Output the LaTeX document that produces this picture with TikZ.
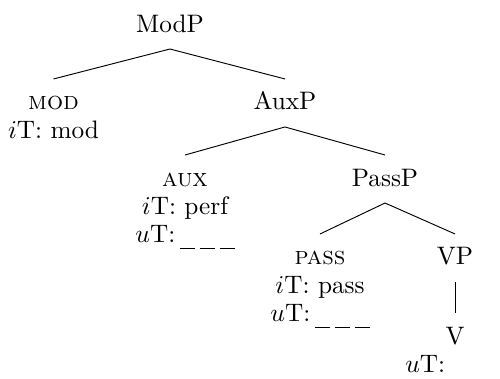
\documentclass[tikz,border=0pt]{standalone}
\usepackage{tikz}

% etichette su piu' righe, allineate sulla prima riga
\newcommand{\pila}[1]{\begin{tabular}[t]{@{}c@{}}#1\end{tabular}}
% spazio vuoto da riempire
\newcommand{\lacuna}{\hspace{2pt}\rule[-3pt]{6.4pt}{0.4pt}\hspace{2.1pt}\rule[-3pt]{6.4pt}{0.4pt}\hspace{2.1pt}\rule[-3pt]{6.4pt}{0.4pt}}

\begin{document}
\begin{tikzpicture}[font=\fontsize{10.8}{12}\selectfont,
    etichetta/.style={inner sep=0pt, anchor=base}]
    % Parametri
    \pgfmathsetmacro{\giu}{0.255}
    \pgfmathsetmacro{\su}{0.466}
    \useasboundingbox (0,0) rectangle (7.51,-5.68);
    % Nodi
    \node[etichetta] (modp) at (2.553,-0.481) {ModP};
    \node[etichetta] (mod) at (0.804,-1.652) {\pila{\textsc{mod}\\$i$T: mod}};
    \node[etichetta] (auxp) at (4.28,-1.652) {AuxP};
    \node[etichetta] (aux) at (2.779,-2.794) {\pila{\textsc{aux}\\$i$T: perf\\$u$T:\lacuna}};
    \node[etichetta] (passp) at (5.783,-2.794) {PassP};
    \node[etichetta] (pass) at (4.807,-3.980) {\pila{\textsc{pass}\\$i$T: pass\\$u$T:\lacuna}};
    \node[etichetta] (vp) at (6.834,-3.980) {VP};
    \node[etichetta] (v) at (6.834,-5.167) {\pila{V\\$u$T:\phantom{\lacuna}}};
    % Rami
    \foreach \padre/\figlio in {modp/mod, modp/auxp, auxp/aux, auxp/passp, passp/pass, passp/vp, vp/v}{
        \draw ([yshift=-\giu cm]\padre.base) -- ([yshift=\su cm]\figlio.base);
    }
\end{tikzpicture}
\end{document}
